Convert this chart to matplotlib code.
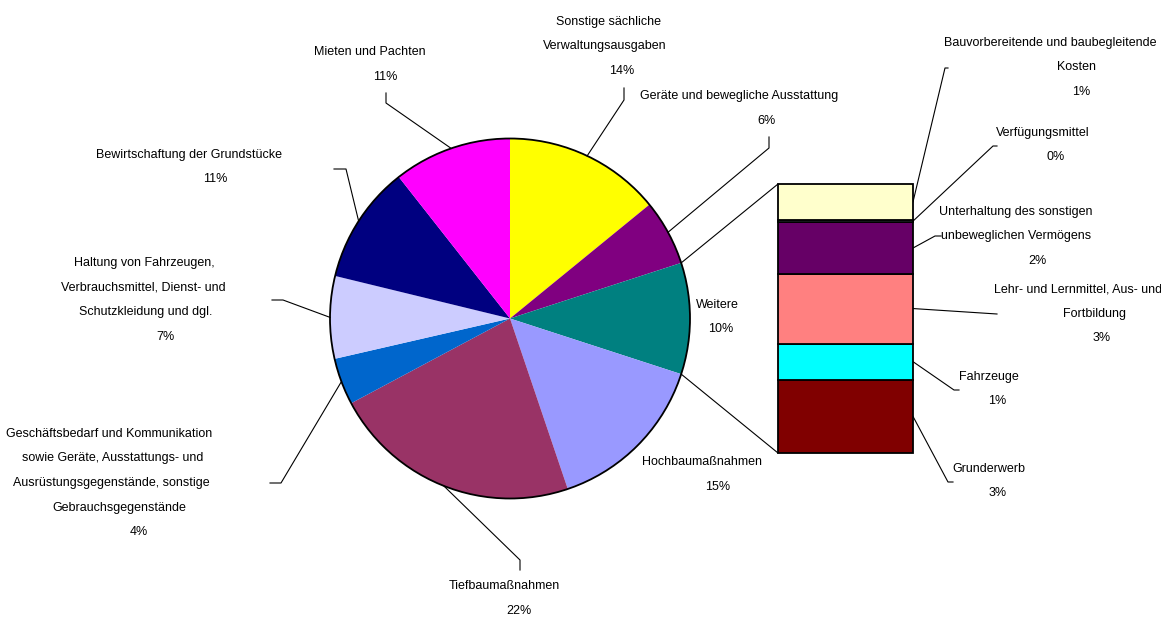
import numpy as np
import matplotlib
matplotlib.use("Agg")
import matplotlib.pyplot as plt
from matplotlib.patches import Circle

plt.rcParams["font.family"] = ["Liberation Sans", "DejaVu Sans"]

# Kreis (im Uhrzeigersinn ab 12 Uhr)
pie_labels = ["Sonstige sächliche\nVerwaltungsausgaben",
              "Geräte und bewegliche Ausstattung",
              "Weitere",
              "Hochbaumaßnahmen",
              "Tiefbaumaßnahmen",
              "Geschäftsbedarf und Kommunikation\nsowie Geräte, Ausstattungs- und\nAusrüstungsgegenstände, sonstige\nGebrauchsgegenstände",
              "Haltung von Fahrzeugen,\nVerbrauchsmittel, Dienst- und\nSchutzkleidung und dgl.",
              "Bewirtschaftung der Grundstücke",
              "Mieten und Pachten"]
pie_values = [14.1, 5.9, 10.0, 14.8, 22.4, 4.2, 7.4, 10.6, 10.6]
pie_colors = ["#FFFF00", "#800080", "#008080", "#9999FF", "#993366",
              "#0066CC", "#CCCCFF", "#000080", "#FF00FF"]

# Säule "Weitere" (von unten nach oben)
bar_labels = ["Grunderwerb",
              "Fahrzeuge",
              "Lehr- und Lernmittel, Aus- und\nFortbildung",
              "Unterhaltung des sonstigen\nunbeweglichen Vermögens",
              "Verfügungsmittel",
              "Bauvorbereitende und baubegleitende\nKosten"]
bar_values = [2.72, 1.35, 2.6, 1.9, 0.1, 1.33]
bar_colors = ["#800000", "#00FFFF", "#FF8080", "#660066", "#CCFFFF", "#FFFFCC"]

# Lage der Beschriftungen: x-Mitte je Zeile, y der ersten Zeile (Pixel)
pie_text_pos = [([608, 605, 622], 22), ([739, 767], 96), ([717, 721], 305),
                ([702, 718], 462), ([504, 519], 586),
                ([109, 113, 111, 119, 139], 434),
                ([144, 143, 146, 165], 263), ([189, 215], 155), ([370, 385], 52)]
pie_leaders = [[(624, 100), (624, 88)], [(769, 148), (769, 137)], None, None,
               [(520, 560), (520, 570)], [(281, 483), (270, 483)],
               [(283, 300), (272, 300)], [(346, 169), (334, 169)],
               [(386, 103), (386, 93)]]
bar_text_pos = [([989, 998], 469), ([989, 997], 377), ([1078, 1095, 1102], 289),
                ([1016, 1016, 1037], 212), ([1043, 1056], 133),
                ([1050, 1076, 1081], 43)]
bar_leaders = [[(948, 482), (953, 482)], [(954, 390), (959, 390)], [(997, 314)],
               [(935, 236), (941, 236)], [(993, 146), (997, 146)],
               [(945, 68), (948, 68)]]

W, H = 1161, 617
cx, cy, R = 510, 318.5, 180
fs = 9
step = 24.5

fig = plt.figure(figsize=(W / 100, H / 100), dpi=100)
ax = fig.add_axes([0, 0, 1, 1])
wedges, _ = ax.pie(pie_values, colors=pie_colors, startangle=-90, counterclock=True,
                   center=(cx, cy), radius=R, wedgeprops=dict(linewidth=0))
ax.add_patch(Circle((cx, cy), R, fill=False, ec="black", lw=1.3, zorder=3))
ax.set_xlim(0, W)
ax.set_ylim(H, 0)
ax.set_aspect("equal")
ax.axis("off")

# Säule
bx0, bx1, by0, by1 = 778, 913, 184, 453
bax = fig.add_axes([bx0 / W, (H - by1) / H, (bx1 - bx0) / W, (by1 - by0) / H])
bottoms = np.concatenate([[0], np.cumsum(bar_values)[:-1]])
bax.bar(0.5, bar_values, bottom=bottoms, width=1, color=bar_colors,
        edgecolor="black", linewidth=1.3, clip_on=False)
bax.set_xlim(0, 1)
bax.set_ylim(0, sum(bar_values))
bax.axis("off")
to_main = bax.transData + ax.transData.inverted()


def rim(theta):
    t = np.deg2rad(theta)
    return cx + R * np.cos(t), cy + R * np.sin(t)


def write(lines, xs, y0):
    for i, (line, x) in enumerate(zip(lines, xs)):
        ax.text(x, y0 + i * step, line, ha="center", va="center", fontsize=fs)


# Verbindungslinien Kreis -> Säule (y-Achse läuft nach unten)
w = wedges[2]
top_left = to_main.transform((0, sum(bar_values)))
bottom_left = to_main.transform((0, 0))
for theta, corner in [(w.theta1, top_left), (w.theta2, bottom_left)]:
    p = rim(theta)
    ax.plot([p[0], corner[0]], [p[1], corner[1]], color="black", lw=0.8)

# Beschriftungen Kreis
for w, lab, v, (xs, y0), lead in zip(wedges, pie_labels, pie_values, pie_text_pos, pie_leaders):
    write(lab.split("\n") + [f"{round(v):.0f}%"], xs, y0)
    if lead:
        pts = [rim((w.theta1 + w.theta2) / 2)] + lead
        ax.plot([p[0] for p in pts], [p[1] for p in pts], color="black", lw=0.8)

# Beschriftungen Säule
for b, lab, v, (xs, y0), lead in zip(bottoms, bar_labels, bar_values, bar_text_pos, bar_leaders):
    write(lab.split("\n") + [f"{round(v):.0f}%"], xs, y0)
    start = to_main.transform((1, b + v / 2))
    pts = [start] + lead
    ax.plot([p[0] for p in pts], [p[1] for p in pts], color="black", lw=0.8)

fig.savefig("out.png", dpi=100)
